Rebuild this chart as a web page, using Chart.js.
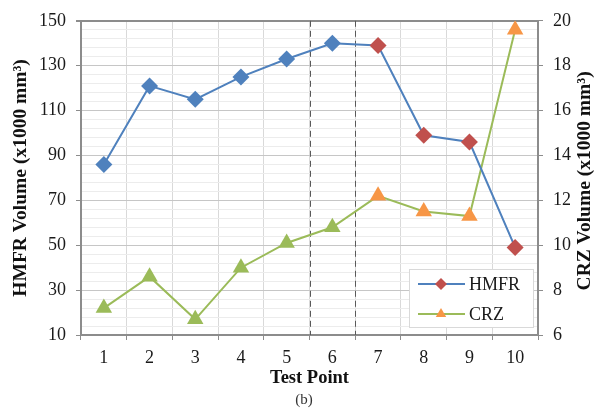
<!DOCTYPE html>
<html>
<head>
<meta charset="utf-8">
<script src="https://cdn.jsdelivr.net/npm/chart.js@4.4.1/dist/chart.umd.min.js"></script>
<style>
  html, body { margin: 0; padding: 0; background: #fff; }
  #wrap { width: 608px; height: 417px; }
</style>
</head>
<body>
<div id="wrap"><canvas id="chart"></canvas></div>
<script>
// values
var testPoints = ['1', '2', '3', '4', '5', '6', '7', '8', '9', '10'];
var hmfrVolume = [86, 121, 115, 125, 133, 140, 139, 99, 96, 49];
var crzVolume = [7.2, 8.6, 6.7, 9.0, 10.1, 10.8, 12.2, 11.5, 11.3, 19.6];
var hmfrTicks = [10, 30, 50, 70, 90, 110, 130, 150];
var crzTicks = [6, 8, 10, 12, 14, 16, 18, 20];
var phaseTwoStart = 6;        // points 7..10 drawn in the second colour
var dashedAfter = [4, 5];     // dashed separators after point 5 and point 6

var BLUE = '#4F81BD', RED = '#C0504D', GREEN = '#9BBB59', ORANGE = '#F79646';
var AXIS = '#8c8c8c';
var SERIF = "'Liberation Serif', 'Times New Roman', serif";

Chart.defaults.font.family = SERIF;
Chart.defaults.color = '#1a1a1a';

function isMajor(v) {
  return (v - hmfrTicks[0]) % (hmfrTicks[1] - hmfrTicks[0]) === 0;
}

var separators = {
  id: 'separators',
  beforeDatasetsDraw: function (chart) {
    var x = chart.scales.x, area = chart.chartArea, ctx = chart.ctx;
    ctx.save();
    ctx.strokeStyle = '#595959';
    ctx.lineWidth = 1;
    ctx.setLineDash([6, 4]);
    dashedAfter.forEach(function (i) {
      var px = Math.round((x.getPixelForValue(i) + x.getPixelForValue(i + 1)) / 2) + 0.5;
      ctx.beginPath();
      ctx.moveTo(px, area.top);
      ctx.lineTo(px, area.bottom);
      ctx.stroke();
    });
    ctx.restore();
  }
};

// right axis title reads bottom-to-top like the left one
var rightTitle = {
  id: 'rightTitle',
  afterDraw: function (chart) {
    var area = chart.chartArea, ctx = chart.ctx;
    ctx.save();
    ctx.translate(585, (area.top + area.bottom) / 2 + 3);
    ctx.rotate(-Math.PI / 2);
    ctx.font = 'bold 19.5px ' + SERIF;
    ctx.fillStyle = '#111';
    ctx.textAlign = 'center';
    ctx.textBaseline = 'middle';
    ctx.fillText('CRZ Volume (x1000 mm³)', 0, 0);
    ctx.restore();
  }
};

function diamond(ctx, x, y, r, c) {
  ctx.fillStyle = c;
  ctx.beginPath();
  ctx.moveTo(x, y - r); ctx.lineTo(x + r, y); ctx.lineTo(x, y + r); ctx.lineTo(x - r, y);
  ctx.closePath(); ctx.fill();
}
function triangle(ctx, x, y, r, c) {
  ctx.fillStyle = c;
  ctx.beginPath();
  ctx.moveTo(x, y - r); ctx.lineTo(x + r * 0.87, y + r * 0.5); ctx.lineTo(x - r * 0.87, y + r * 0.5);
  ctx.closePath(); ctx.fill();
}

var boxLegend = {
  id: 'boxLegend',
  afterDatasetsDraw: function (chart) {
    var area = chart.chartArea, ctx = chart.ctx;
    var w = 124, h = 58;
    var bx = area.right - w - 5, by = area.bottom - h - 8;
    ctx.save();
    ctx.fillStyle = '#fff';
    ctx.fillRect(bx, by, w, h);
    ctx.strokeStyle = '#d9d9d9';
    ctx.lineWidth = 1;
    ctx.strokeRect(bx + 0.5, by + 0.5, w, h);
    var rows = [
      { label: 'HMFR', line: BLUE, mark: RED, draw: diamond },
      { label: 'CRZ', line: GREEN, mark: ORANGE, draw: triangle }
    ];
    ctx.font = '18px ' + SERIF;
    ctx.textBaseline = 'middle';
    rows.forEach(function (r, i) {
      var y = by + 15 + i * 30;
      ctx.strokeStyle = r.line;
      ctx.lineWidth = 2;
      ctx.beginPath();
      ctx.moveTo(bx + 9, y); ctx.lineTo(bx + 56, y);
      ctx.stroke();
      r.draw(ctx, bx + 32, y, 6, r.mark);
      ctx.fillStyle = '#1a1a1a';
      ctx.fillText(r.label, bx + 60, y + 1);
    });
    ctx.restore();
  }
};

new Chart(document.getElementById('chart'), {
  type: 'line',
  data: {
    labels: testPoints,
    datasets: [{
      label: 'HMFR',
      data: hmfrVolume,
      yAxisID: 'y',
      borderColor: BLUE,
      borderWidth: 2,
      pointStyle: 'rectRot',
      pointRadius: 8.5,
      pointHoverRadius: 8.5,
      pointBorderWidth: 0,
      pointBackgroundColor: function (c) { return c.dataIndex >= phaseTwoStart ? RED : BLUE; },
      pointBorderColor: function (c) { return c.dataIndex >= phaseTwoStart ? RED : BLUE; },
      tension: 0
    }, {
      label: 'CRZ',
      data: crzVolume,
      yAxisID: 'y1',
      borderColor: GREEN,
      borderWidth: 2,
      pointStyle: 'triangle',
      pointRadius: 9.5,
      pointHoverRadius: 9.5,
      pointBorderWidth: 0,
      pointBackgroundColor: function (c) { return c.dataIndex >= phaseTwoStart ? ORANGE : GREEN; },
      pointBorderColor: function (c) { return c.dataIndex >= phaseTwoStart ? ORANGE : GREEN; },
      tension: 0
    }]
  },
  options: {
    responsive: true,
    maintainAspectRatio: false,
    animation: false,
    layout: { padding: { top: 16, left: 0, right: 0, bottom: 0 } },
    plugins: {
      legend: { display: false },
      tooltip: { enabled: false },
      subtitle: {
        display: true,
        position: 'bottom',
        text: '(b)',
        color: '#333',
        font: { size: 15, family: SERIF },
        padding: { top: 2, bottom: 8 }
      }
    },
    scales: {
      x: {
        type: 'category',
        offset: true,
        afterFit: function (s) { s.height = 54; },
        grid: {
          offset: true,
          color: '#d9d9d9',
          lineWidth: 1,
          tickLength: 5,
          tickColor: AXIS
        },
        border: { color: AXIS, width: 2 },
        ticks: { padding: 7, font: { size: 18 }, maxRotation: 0 },
        title: {
          display: true,
          text: 'Test Point',
          color: '#111',
          font: { size: 18.5, weight: 'bold', family: SERIF },
          padding: { top: 0, bottom: 0 }
        }
      },
      y: {
        position: 'left',
        min: hmfrTicks[0],
        max: hmfrTicks[hmfrTicks.length - 1],
        afterFit: function (s) { s.width = 81; },
        ticks: {
          stepSize: 4,
          autoSkip: false,
          padding: 10,
          font: { size: 18 },
          callback: function (v) { return isMajor(v) ? v : ''; }
        },
        grid: {
          color: function (c) {
            if (c.tick.value === hmfrTicks[hmfrTicks.length - 1]) return AXIS;
            return isMajor(c.tick.value) ? '#c6c6c6' : '#ececec';
          },
          lineWidth: function (c) { return c.tick.value === hmfrTicks[hmfrTicks.length - 1] ? 2 : 1; },
          tickColor: function (c) { return isMajor(c.tick.value) ? AXIS : 'rgba(0,0,0,0)'; },
          tickLength: 5
        },
        border: { color: AXIS, width: 2 },
        title: {
          display: true,
          text: 'HMFR Volume (x1000 mm³)',
          color: '#111',
          font: { size: 19.5, weight: 'bold', family: SERIF },
          padding: { top: 9, bottom: 0 }
        }
      },
      y1: {
        position: 'right',
        min: crzTicks[0],
        max: crzTicks[crzTicks.length - 1],
        afterFit: function (s) { s.width = 70; },
        ticks: { stepSize: 2, padding: 10, font: { size: 18 } },
        grid: { drawOnChartArea: false, tickLength: 5, tickColor: AXIS },
        border: { color: AXIS, width: 2 }
      }
    }
  },
  plugins: [separators, boxLegend, rightTitle]
});
</script>
</body>
</html>
